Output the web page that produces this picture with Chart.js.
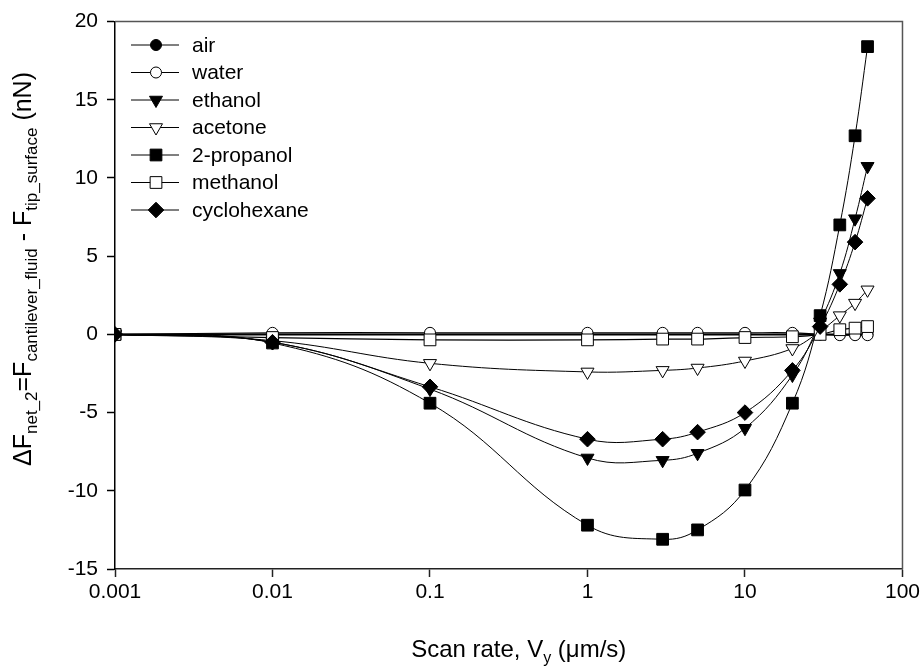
<!DOCTYPE html>
<html><head><meta charset="utf-8">
<script src="https://cdn.jsdelivr.net/npm/chart.js@4.4.0/dist/chart.umd.min.js"></script>
<style>html,body{margin:0;padding:0;background:#fff}#wrap{width:923px;height:670px;position:relative}</style>
</head><body><div id="wrap"><canvas id="c" width="923" height="670"></canvas></div>
<script>
// ---- data ----
const scanRates   = [0.001, 0.01, 0.1, 1, 3, 5, 10, 20, 30, 40, 50, 60];
const air         = [0, 0, 0, 0, 0, 0, 0, 0, 0, 0, 0, 0];
const water       = [0, 0.1, 0.1, 0.1, 0.1, 0.1, 0.1, 0.1, 0, -0.05, -0.05, -0.05];
const ethanol     = [0, -0.5, -3.5, -7.9, -8.05, -7.6, -6.0, -2.6, 0.8, 3.9, 7.4, 10.75];
const acetone     = [0, -0.4, -1.85, -2.4, -2.3, -2.15, -1.7, -0.9, 0.2, 1.2, 2.0, 2.85];
const propanol2   = [0, -0.55, -4.4, -12.2, -13.1, -12.5, -9.95, -4.4, 1.2, 7.0, 12.7, 18.4];
const methanol    = [0, -0.2, -0.35, -0.35, -0.3, -0.3, -0.2, -0.15, 0, 0.3, 0.4, 0.5];
const cyclohexane = [0, -0.5, -3.35, -6.7, -6.7, -6.25, -5.0, -2.3, 0.5, 3.2, 5.9, 8.7];
const seriesNames = ['air', 'water', 'ethanol', 'acetone', '2-propanol', 'methanol', 'cyclohexane'];
const xTickValues = [0.001, 0.01, 0.1, 1, 10, 100];
const xTickLabels = ['0.001', '0.01', '0.1', '1', '10', '100'];
const yTickValues = [-15, -10, -5, 0, 5, 10, 15, 20];

const seriesValues = [air, water, ethanol, acetone, propanol2, methanol, cyclohexane];
const markers = [
  {style: 'circle',   fill: '#000', r: 5.5, rot: 0, lw: 2},
  {style: 'circle',   fill: '#fff', r: 5.5, rot: 0, lw: 1.2},
  {style: 'triangle', fill: '#000', r: 7.5, rot: 180, lw: 1},
  {style: 'triangle', fill: '#fff', r: 7.5, rot: 180, lw: 1},
  {style: 'rect',     fill: '#000', r: 8.3, rot: 0, lw: 1},
  {style: 'rect',     fill: '#fff', r: 8.3, rot: 0, lw: 1.2},
  {style: 'rectRot',  fill: '#000', r: 7.8, rot: 0, lw: 1}
];
const FONT = "'Liberation Sans', Arial, sans-serif";

const datasets = seriesNames.map((name, i) => ({
  label: name,
  data: scanRates.map((x, j) => ({x: x, y: seriesValues[i][j]})),
  borderColor: '#000',
  borderWidth: markers[i].lw,
  backgroundColor: markers[i].fill,
  pointStyle: markers[i].style,
  pointRotation: markers[i].rot,
  pointRadius: markers[i].r,
  pointBorderWidth: 1,
  pointBorderColor: '#000',
  pointBackgroundColor: markers[i].fill,
  tension: 0.4,
  fill: false,
  order: seriesNames.length - i
}));

function drawMarker(ctx, m, x, y) {
  ctx.save();
  ctx.fillStyle = m.fill; ctx.strokeStyle = '#000'; ctx.lineWidth = 1;
  if (Chart.helpers && Chart.helpers.drawPoint) {
    Chart.helpers.drawPoint(ctx, {pointStyle: m.style, radius: m.r, rotation: m.rot, borderWidth: 1}, x, y);
  }
  ctx.restore();
}

function drawRich(ctx, segs, family) {
  let total = 0;
  segs.forEach(s => { ctx.font = s.s + 'px ' + family; s.w = ctx.measureText(s.t).width; total += s.w; });
  let cx = -total / 2;
  segs.forEach(s => {
    ctx.font = s.s + 'px ' + family;
    ctx.fillText(s.t, cx, s.dy || 0);
    cx += s.w;
  });
}

const decorPlugin = {
  id: 'decor',
  afterDatasetsDraw(chart) {
    const ctx = chart.ctx, a = chart.chartArea;
    ctx.save();
    // frame top and right
    ctx.strokeStyle = '#555'; ctx.lineWidth = 1.5;
    ctx.beginPath();
    ctx.moveTo(a.left, a.top); ctx.lineTo(a.right, a.top); ctx.lineTo(a.right, a.bottom);
    ctx.stroke();
    // legend
    ctx.textBaseline = 'middle'; ctx.textAlign = 'left';
    ctx.fillStyle = '#000';
    ctx.font = '21px ' + FONT;
    seriesNames.forEach((name, i) => {
      const y = 45 + i * 27.5;
      ctx.strokeStyle = '#000'; ctx.lineWidth = 1;
      ctx.beginPath(); ctx.moveTo(131, y); ctx.lineTo(179, y); ctx.stroke();
      drawMarker(ctx, markers[i], 156, y);
      ctx.fillStyle = '#000';
      ctx.font = '21px ' + FONT;
      ctx.fillText(name, 192, y + 1);
    });
    // axis titles
    ctx.fillStyle = '#000'; ctx.textBaseline = 'alphabetic';
    ctx.save();
    ctx.translate((a.left + a.right) / 2 + 10, 657);
    drawRich(ctx, [
      {t: 'Scan rate, V', s: 24}, {t: 'y', s: 16, dy: 6}, {t: ' (\u03BCm/s)', s: 24}
    ], FONT);
    ctx.restore();
    ctx.save();
    ctx.translate(31, 269);
    ctx.rotate(-Math.PI / 2);
    drawRich(ctx, [
      {t: '\u0394F', s: 25}, {t: 'net_2', s: 17, dy: 6},
      {t: '=F', s: 25}, {t: 'cantilever_fluid', s: 17, dy: 6},
      {t: ' - F', s: 25}, {t: 'tip_surface', s: 17, dy: 6},
      {t: ' (nN)', s: 25}
    ], FONT);
    ctx.restore();
    ctx.restore();
  }
};

new Chart(document.getElementById('c'), {
  type: 'line',
  data: {datasets: datasets},
  options: {
    responsive: false,
    animation: false,
    devicePixelRatio: 1,
    layout: {padding: {left: 0, top: 16, right: 20, bottom: 0}},
    plugins: {legend: {display: false}, tooltip: {enabled: false}},
    elements: {line: {capBezierPoints: false}},
    scales: {
      x: {
        type: 'logarithmic', min: 0.001, max: 100,
        afterBuildTicks: s => { s.ticks = xTickValues.map(v => ({value: v})); },
        afterFit: s => { s.height = 101; },
        ticks: {
          callback: (v, i) => xTickLabels[i],
          font: {family: FONT, size: 21}, color: '#000', padding: 3,
          maxRotation: 0, autoSkip: false
        },
        grid: {display: true, drawOnChartArea: false, drawTicks: true, tickLength: 8, tickColor: '#222', tickWidth: 1.5},
        border: {display: true, color: '#222', width: 1.5}
      },
      y: {
        type: 'linear', min: -15, max: 20,
        afterBuildTicks: s => { s.ticks = yTickValues.map(v => ({value: v})); },
        afterFit: s => { s.width = 115; },
        ticks: {
          callback: v => String(v),
          font: {family: FONT, size: 21}, color: '#000', padding: 9
        },
        grid: {display: true, drawOnChartArea: false, drawTicks: true, tickLength: 8, tickColor: '#000', tickWidth: 1.5},
        border: {display: true, color: '#000', width: 1.5}
      }
    }
  },
  plugins: [decorPlugin]
});
</script>
</body></html>
